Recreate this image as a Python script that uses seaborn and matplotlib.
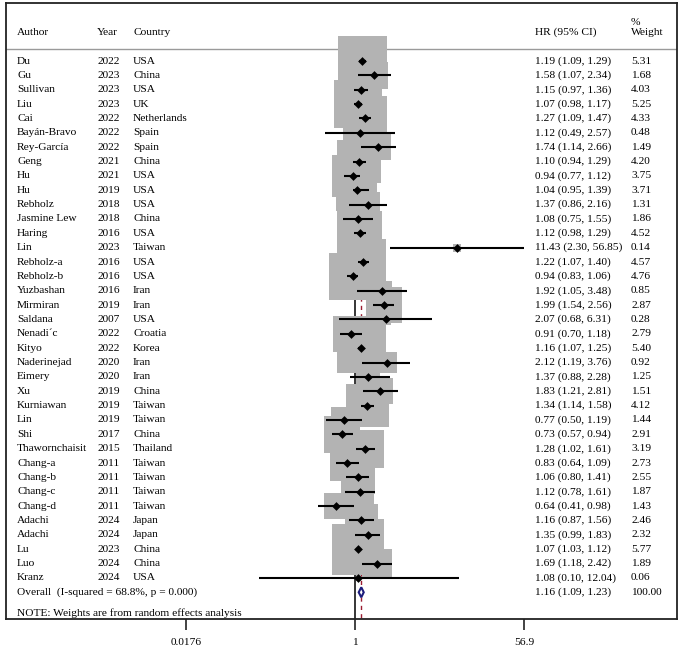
import numpy as np
import matplotlib
matplotlib.use("Agg")
import matplotlib.pyplot as plt
import matplotlib.transforms as mtransforms
from matplotlib.patches import Rectangle
import seaborn as sns

authors = ["Du", "Gu", "Sullivan", "Liu", "Cai", "Bayán-Bravo", "Rey-García", "Geng", "Hu", "Hu",
           "Rebholz", "Jasmine Lew", "Haring", "Lin", "Rebholz-a", "Rebholz-b", "Yuzbashan", "Mirmiran",
           "Saldana", "Nenadi´c", "Kityo", "Naderinejad", "Eimery", "Xu", "Kurniawan", "Lin", "Shi",
           "Thawornchaisit", "Chang-a", "Chang-b", "Chang-c", "Chang-d", "Adachi", "Adachi", "Lu", "Luo", "Kranz"]
years = [2022, 2023, 2023, 2023, 2022, 2022, 2022, 2021, 2021, 2019,
         2018, 2018, 2016, 2023, 2016, 2016, 2016, 2019,
         2007, 2022, 2022, 2020, 2020, 2019, 2019, 2019, 2017,
         2015, 2011, 2011, 2011, 2011, 2024, 2024, 2023, 2024, 2024]
countries = ["USA", "China", "USA", "UK", "Netherlands", "Spain", "Spain", "China", "USA", "USA",
             "USA", "China", "USA", "Taiwan", "USA", "USA", "Iran", "Iran",
             "USA", "Croatia", "Korea", "Iran", "Iran", "China", "Taiwan", "Taiwan", "China",
             "Thailand", "Taiwan", "Taiwan", "Taiwan", "Taiwan", "Japan", "Japan", "China", "China", "USA"]
hr = [1.19, 1.58, 1.15, 1.07, 1.27, 1.12, 1.74, 1.10, 0.94, 1.04,
      1.37, 1.08, 1.12, 11.43, 1.22, 0.94, 1.92, 1.99,
      2.07, 0.91, 1.16, 2.12, 1.37, 1.83, 1.34, 0.77, 0.73,
      1.28, 0.83, 1.06, 1.12, 0.64, 1.16, 1.35, 1.07, 1.69, 1.08]
lo = [1.09, 1.07, 0.97, 0.98, 1.09, 0.49, 1.14, 0.94, 0.77, 0.95,
      0.86, 0.75, 0.98, 2.30, 1.07, 0.83, 1.05, 1.54,
      0.68, 0.70, 1.07, 1.19, 0.88, 1.21, 1.14, 0.50, 0.57,
      1.02, 0.64, 0.80, 0.78, 0.41, 0.87, 0.99, 1.03, 1.18, 0.10]
hi = [1.29, 2.34, 1.36, 1.17, 1.47, 2.57, 2.66, 1.29, 1.12, 1.39,
      2.16, 1.55, 1.29, 56.85, 1.40, 1.06, 3.48, 2.56,
      6.31, 1.18, 1.25, 3.76, 2.28, 2.81, 1.58, 1.19, 0.94,
      1.61, 1.09, 1.41, 1.61, 0.98, 1.56, 1.83, 1.12, 2.42, 12.04]
weights = [5.31, 1.68, 4.03, 5.25, 4.33, 0.48, 1.49, 4.20, 3.75, 3.71,
           1.31, 1.86, 4.52, 0.14, 4.57, 4.76, 0.85, 2.87,
           0.28, 2.79, 5.40, 0.92, 1.25, 1.51, 4.12, 1.44, 2.91,
           3.19, 2.73, 2.55, 1.87, 1.43, 2.46, 2.32, 5.77, 1.89, 0.06]
overall_hr, overall_lo, overall_hi, overall_w = 1.16, 1.09, 1.23, 100.00
overall_label = "Overall  (I-squared = 68.8%, p = 0.000)"
note_label = "NOTE: Weights are from random effects analysis"
xticks = [0.0176, 1, 56.9]
xticklabels = ["0.0176", "1", "56.9"]

sns.set_theme(style="white")
plt.rcParams['font.family'] = ['Liberation Serif', 'DejaVu Serif']
FS = 8.2

W, H = 685, 657
fig = plt.figure(figsize=(W / 100, H / 100), dpi=100)
left_px, right_px, top_px, bot_px = 6, 677, 3, 619
ax = fig.add_axes([left_px / W, 1 - bot_px / H, (right_px - left_px) / W, (bot_px - top_px) / H])
ax.set_facecolor("white")
ax.set_xscale("log")
lnmin, lnmax = -8.35, 7.70
ax.set_xlim(np.exp(lnmin), np.exp(lnmax))
ymax, ymin = 38.86, -4.04
ax.set_ylim(ymax, ymin)

px_per_ln = (right_px - left_px) / (lnmax - lnmin)
px_per_row = (bot_px - top_px) / (ymax - ymin)

n = len(authors)
rows = np.arange(n)
overall_row = 37.0
note_row = 38.45

# reference lines
ax.vlines(1, -1.0, ymax, color="black", lw=1.1, zorder=1)
ax.vlines(overall_hr, -1.0, ymax, color="#9b1c31", lw=1.0, linestyles=(0, (3, 3)), zorder=1)

# weight boxes
for r, h, w in zip(rows, hr, weights):
    half = 21.3 * np.sqrt(w) / 2
    lh = np.log(h)
    x0 = np.exp(lh - half / px_per_ln)
    x1 = np.exp(lh + half / px_per_ln)
    hy = half / px_per_row
    ax.add_patch(Rectangle((x0, r - hy), x1 - x0, 2 * hy, facecolor="#b3b3b3",
                           edgecolor="none", zorder=2))

# CIs
ax.hlines(rows, lo, hi, color="black", lw=1.5, zorder=3)
sns.scatterplot(x=hr, y=rows, marker="D", color="black", s=20, linewidth=0, ax=ax, zorder=4, legend=False)

# overall diamond
dh = 5.0 / px_per_row
ax.fill([overall_lo, overall_hr, overall_hi, overall_hr],
        [overall_row, overall_row - dh, overall_row, overall_row + dh],
        facecolor="white", edgecolor="#1c1c7c", lw=1.5, zorder=5)

# header line
ax.axhline(-0.84, color="#9a9a9a", lw=1.0, zorder=1)

trans = mtransforms.blended_transform_factory(ax.transAxes, ax.transData)
def fx(px):
    return (px - left_px) / (right_px - left_px)

x_auth, x_year, x_ctry, x_hr, x_w = fx(17), fx(97), fx(133), fx(535), fx(631)
hdr_row = -2.0
for xx, s in [(x_auth, "Author"), (x_year, "Year"), (x_ctry, "Country"), (x_hr, "HR (95% CI)"), (x_w, "Weight")]:
    ax.text(xx, hdr_row, s, transform=trans, fontsize=FS, va="center", ha="left", color="black")
ax.text(x_w, -2.7, "%", transform=trans, fontsize=FS, va="center", ha="left", color="black")

for r in rows:
    ax.text(x_auth, r, authors[r], transform=trans, fontsize=FS, va="center", ha="left", color="black")
    ax.text(x_year, r, str(years[r]), transform=trans, fontsize=FS, va="center", ha="left", color="black")
    ax.text(x_ctry, r, countries[r], transform=trans, fontsize=FS, va="center", ha="left", color="black")
    ax.text(x_hr, r, f"{hr[r]:.2f} ({lo[r]:.2f}, {hi[r]:.2f})", transform=trans, fontsize=FS, va="center", ha="left", color="black")
    ax.text(x_w, r, f"{weights[r]:.2f}", transform=trans, fontsize=FS, va="center", ha="left", color="black")

ax.text(x_auth, overall_row, overall_label, transform=trans, fontsize=FS, va="center", ha="left", color="black")
ax.text(x_hr, overall_row, f"{overall_hr:.2f} ({overall_lo:.2f}, {overall_hi:.2f})", transform=trans, fontsize=FS, va="center", ha="left", color="black")
ax.text(x_w, overall_row, f"{overall_w:.2f}", transform=trans, fontsize=FS, va="center", ha="left", color="black")
ax.text(x_auth, note_row, note_label, transform=trans, fontsize=FS, va="center", ha="left", color="black")

ax.set_xticks(xticks)
ax.set_xticklabels(xticklabels, fontsize=FS, color="black")
ax.xaxis.set_minor_locator(matplotlib.ticker.NullLocator())
ax.tick_params(axis="x", which="major", direction="out", length=8, width=1.2, color="#222222", pad=6, bottom=True)
ax.set_yticks([])
ax.set_xlabel("")
ax.set_ylabel("")
for sp in ax.spines.values():
    sp.set_visible(True)
    sp.set_color("#222222")
    sp.set_linewidth(1.3)

fig.savefig("out.png", dpi=100, facecolor="white")
